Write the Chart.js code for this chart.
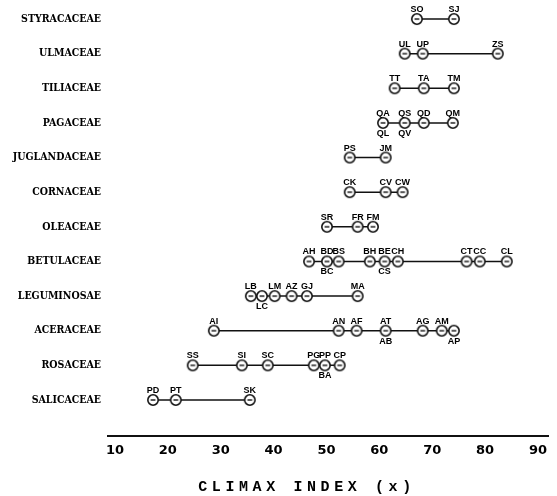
<!DOCTYPE html>
<html><head><meta charset="utf-8">
<script src="https://cdn.jsdelivr.net/npm/chart.js@4/dist/chart.umd.min.js"></script>
<style>html,body{margin:0;padding:0;background:#fff}</style>
</head><body>
<canvas id="c" width="557" height="496"></canvas>
<script>
// ---- data ----
const families = ['STYRACACEAE','ULMACEAE','TILIACEAE','PAGACEAE','JUGLANDACEAE','CORNACEAE',
  'OLEACEAE','BETULACEAE','LEGUMINOSAE','ACERACEAE','ROSACEAE','SALICACEAE'];
const xTickValues = [10,20,30,40,50,60,70,80,90];
const axisTitle = 'CLIMAX INDEX (x)';

const styracaceaeValues = [67.1, 74.1];
const styracaceaeAbove  = ['SO','SJ'];
const styracaceaeBelow  = ['',''];

const ulmaceaeValues = [64.8, 68.2, 82.4];
const ulmaceaeAbove  = ['UL','UP','ZS'];
const ulmaceaeBelow  = ['','',''];

const tiliaceaeValues = [62.9, 68.4, 74.1];
const tiliaceaeAbove  = ['TT','TA','TM'];
const tiliaceaeBelow  = ['','',''];

const fagaceaeValues = [60.7, 64.8, 68.4, 73.9];
const fagaceaeAbove  = ['QA','QS','QD','QM'];
const fagaceaeBelow  = ['QL','QV','',''];

const juglandaceaeValues = [54.4, 61.2];
const juglandaceaeAbove  = ['PS','JM'];
const juglandaceaeBelow  = ['',''];

const cornaceaeValues = [54.4, 61.2, 64.4];
const cornaceaeAbove  = ['CK','CV','CW'];
const cornaceaeBelow  = ['','',''];

const oleaceaeValues = [50.1, 55.9, 58.8];
const oleaceaeAbove  = ['SR','FR','FM'];
const oleaceaeBelow  = ['','',''];

const betulaceaeValues = [46.7, 50.1, 52.3, 58.2, 61.0, 63.5, 76.5, 79.0, 84.1];
const betulaceaeAbove  = ['AH','BD','BS','BH','BE','CH','CT','CC','CL'];
const betulaceaeBelow  = ['','BC','','','CS','','','',''];

const leguminosaeValues = [35.7, 37.8, 40.2, 43.4, 46.3, 55.9];
const leguminosaeAbove  = ['LB','','LM','AZ','GJ','MA'];
const leguminosaeBelow  = ['','LC','','','',''];

const aceraceaeValues = [28.7, 52.3, 55.7, 61.2, 68.2, 71.8, 74.1];
const aceraceaeAbove  = ['AI','AN','AF','AT','AG','AM',''];
const aceraceaeBelow  = ['','','','AB','','','AP'];

const rosaceaeValues = [24.7, 34.0, 38.9, 47.6, 49.7, 52.5];
const rosaceaeAbove  = ['SS','SI','SC','PG','PP','CP'];
const rosaceaeBelow  = ['','','','','BA',''];

const salicaceaeValues = [17.2, 21.5, 35.5];
const salicaceaeAbove  = ['PD','PT','SK'];
const salicaceaeBelow  = ['','',''];

const rows = [
  [styracaceaeValues, styracaceaeAbove, styracaceaeBelow],
  [ulmaceaeValues, ulmaceaeAbove, ulmaceaeBelow],
  [tiliaceaeValues, tiliaceaeAbove, tiliaceaeBelow],
  [fagaceaeValues, fagaceaeAbove, fagaceaeBelow],
  [juglandaceaeValues, juglandaceaeAbove, juglandaceaeBelow],
  [cornaceaeValues, cornaceaeAbove, cornaceaeBelow],
  [oleaceaeValues, oleaceaeAbove, oleaceaeBelow],
  [betulaceaeValues, betulaceaeAbove, betulaceaeBelow],
  [leguminosaeValues, leguminosaeAbove, leguminosaeBelow],
  [aceraceaeValues, aceraceaeAbove, aceraceaeBelow],
  [rosaceaeValues, rosaceaeAbove, rosaceaeBelow],
  [salicaceaeValues, salicaceaeAbove, salicaceaeBelow]
];

// ---- point marker (open circle with small centre dash) ----
const marker = document.createElement('canvas');
marker.width = 14; marker.height = 14;
(function(){
  const g = marker.getContext('2d');
  g.fillStyle = '#fff'; g.strokeStyle = '#111'; g.lineWidth = 1.6;
  g.beginPath(); g.arc(7, 7, 5.2, 0, Math.PI*2); g.fill(); g.stroke();
  g.lineWidth = 1.4; g.beginPath(); g.moveTo(4.6, 7); g.lineTo(9.4, 7); g.stroke();
})();

const datasets = rows.map((r, i) => ({
  label: families[i],
  data: r[0].map(v => ({x: v, y: i + 1})),
  labelsAbove: r[1],
  labelsBelow: r[2],
  showLine: true,
  borderColor: '#111',
  borderWidth: 1.5,
  pointStyle: marker,
  pointRadius: 6,
  pointHoverRadius: 6,
  clip: false
}));

const pointLabels = {
  id: 'pointLabels',
  afterDatasetsDraw(chart) {
    const ctx = chart.ctx;
    ctx.save();
    ctx.font = 'bold 9px "Liberation Sans", Arial, sans-serif';
    ctx.fillStyle = '#000';
    ctx.textAlign = 'center';
    ctx.textBaseline = 'middle';
    chart.data.datasets.forEach((ds, i) => {
      chart.getDatasetMeta(i).data.forEach((pt, j) => {
        if (ds.labelsAbove[j]) ctx.fillText(ds.labelsAbove[j], pt.x, pt.y - 9.5);
        if (ds.labelsBelow[j]) ctx.fillText(ds.labelsBelow[j], pt.x, pt.y + 10.5);
      });
    });
    ctx.restore();
  }
};

const titleSpacing = {
  id: 'titleSpacing',
  beforeDraw(chart) {
    const s = chart.scales.x;
    if (s.__wrapped) return;
    const orig = s.drawTitle.bind(s);
    s.drawTitle = function() {
      const ctx = this.ctx;
      ctx.save();
      ctx.letterSpacing = '4.6px';
      ctx.translate(-21, 0);
      orig();
      ctx.restore();
    };
    s.__wrapped = true;
  }
};

new Chart(document.getElementById('c'), {
  type: 'scatter',
  data: { datasets },
  plugins: [pointLabels, titleSpacing],
  options: {
    responsive: false,
    animation: false,
    layout: { padding: { top: 0, left: 0, bottom: 0, right: 9 }, autoPadding: false },
    plugins: { legend: { display: false }, tooltip: { enabled: false } },
    scales: {
      x: {
        type: 'linear',
        bounds: 'data',
        min: 8.68, max: 91.9,
        afterBuildTicks: s => { s.ticks = xTickValues.map(v => ({value: v})); },
        afterFit: s => { s.height = 60; s.paddingLeft = 0; s.paddingRight = 0; },
        grid: { display: false, drawTicks: false },
        border: { display: true, color: '#111', width: 2 },
        ticks: { color: '#000', padding: 7, maxRotation: 0, includeBounds: false,
          font: { family: '"DejaVu Sans", sans-serif', weight: 'bold', size: 13 } },
        title: { display: true, text: axisTitle, color: '#000',
          padding: { top: 0, bottom: 0 },
          font: { family: '"Liberation Mono", monospace', weight: 'bold', size: 15, lineHeight: 1.2 } }
      },
      y: {
        type: 'linear',
        bounds: 'data',
        reverse: true,
        min: 0.4514, max: 13.04,
        afterBuildTicks: s => { s.ticks = families.map((f, i) => ({value: i + 1})); },
        afterFit: s => { s.width = 108; s.paddingTop = 0; s.paddingBottom = 0; },
        grid: { display: false, drawTicks: false },
        border: { display: false },
        ticks: { color: '#000', padding: 7, includeBounds: false,
          callback: v => families[v - 1],
          font: { family: '"DejaVu Serif Condensed", "Liberation Serif", serif', weight: 'bold', size: 10.5 } }
      }
    }
  }
});
</script>
</body></html>
